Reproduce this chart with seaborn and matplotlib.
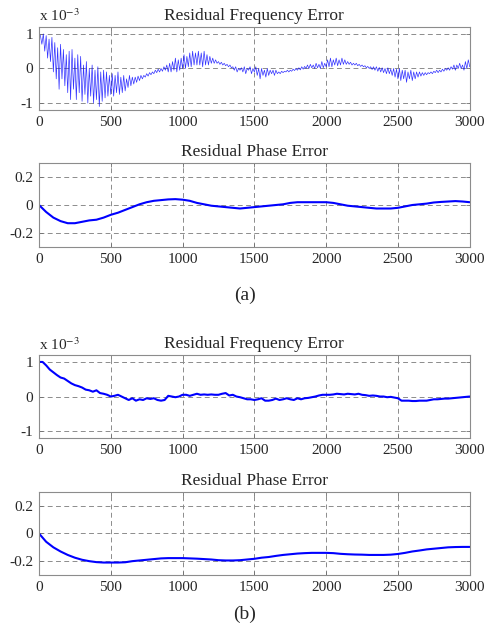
import numpy as np
import matplotlib
matplotlib.use("Agg")
import matplotlib.pyplot as plt
import seaborn as sns

# --- Daten ---
# (a) Residual Frequency Error, Einheit 1e-3, Schritt 10 Samples
freq_a_0 = [1.0, 0.95, 0.7, 1.0, 0.5, 0.95, 0.3, 0.85, 0.2, 0.9,
            -0.1, 0.75, -0.3, 0.6, -0.6, 0.7, -0.3, 0.55, -0.5, 0.4,
            -0.7, 0.5, -0.9, 0.55, -0.6, 0.3, -0.9, 0.4, -0.7, 0.35,
            -0.95, 0.1, -0.75, 0.2, -1.0, 0.0, -0.8, 0.1, -1.0, -0.05,
            -0.9, 0.05, -1.1, -0.1, -0.95, -0.05, -0.85, -0.1, -0.8, -0.2]
freq_a_1 = [-0.75, -0.15, -0.8, -0.2, -0.7, -0.1, -0.75, -0.25, -0.7, -0.2,
            -0.65, -0.3, -0.55, -0.2, -0.5, -0.25, -0.45, -0.25, -0.4, -0.22,
            -0.35, -0.2, -0.3, -0.2, -0.25, -0.15, -0.22, -0.12, -0.18, -0.1,
            -0.15, -0.05, -0.12, -0.02, -0.1, 0.0, -0.08, 0.05, -0.05, 0.1,
            -0.1, 0.15, -0.1, 0.2, -0.05, 0.3, -0.1, 0.25, -0.05, 0.3]
freq_a_2 = [0.0, 0.4, 0.0, 0.35, 0.05, 0.45, 0.05, 0.5, 0.1, 0.45,
            0.1, 0.5, 0.1, 0.45, 0.05, 0.5, 0.1, 0.4, 0.1, 0.35,
            0.15, 0.3, 0.15, 0.25, 0.15, 0.2, 0.12, 0.18, 0.1, 0.15,
            0.08, 0.12, 0.05, 0.1, 0.02, 0.05, -0.05, 0.05, -0.1, 0.0,
            -0.05, 0.02, -0.1, 0.05, -0.15, 0.0, -0.05, 0.05, -0.15, 0.0]
freq_a_3 = [-0.1, 0.05, -0.2, 0.0, -0.3, 0.0, -0.2, -0.05, -0.25, 0.0,
            -0.2, -0.05, -0.15, -0.05, -0.2, -0.05, -0.15, -0.1, -0.15, -0.08,
            -0.12, -0.08, -0.1, -0.05, -0.1, -0.05, -0.08, -0.02, -0.06, 0.0,
            -0.05, 0.02, -0.04, 0.05, -0.02, 0.06, 0.0, 0.1, 0.0, 0.12,
            0.02, 0.1, 0.0, 0.15, 0.02, 0.12, 0.0, 0.2, 0.02, 0.15]
freq_a_4 = [0.05, 0.25, 0.05, 0.3, 0.05, 0.25, 0.1, 0.3, 0.08, 0.25,
            0.1, 0.3, 0.12, 0.25, 0.12, 0.2, 0.12, 0.18, 0.1, 0.15,
            0.1, 0.15, 0.08, 0.12, 0.06, 0.1, 0.05, 0.08, 0.02, 0.06,
            0.0, 0.05, -0.03, 0.05, -0.05, 0.05, -0.08, 0.03, -0.1, 0.02,
            -0.12, 0.0, -0.15, 0.02, -0.15, -0.02, -0.2, 0.0, -0.25, -0.02]
freq_a_5 = [-0.3, 0.0, -0.35, -0.05, -0.3, -0.05, -0.4, -0.1, -0.3, -0.05,
            -0.35, -0.1, -0.3, -0.1, -0.25, -0.1, -0.22, -0.12, -0.2, -0.12,
            -0.18, -0.12, -0.15, -0.1, -0.15, -0.08, -0.12, -0.05, -0.12, -0.05,
            -0.1, -0.02, -0.08, 0.0, -0.05, 0.02, -0.05, 0.05, -0.02, 0.1,
            -0.05, 0.1, 0.0, 0.15, 0.0, 0.1, -0.05, 0.2, 0.0, 0.25, 0.05]
freq_a = freq_a_0 + freq_a_1 + freq_a_2 + freq_a_3 + freq_a_4 + freq_a_5
n_freq_a = np.arange(len(freq_a)) * 10

# (a) Residual Phase Error, Schritt 50
phase_a = [0.0, -0.05, -0.09, -0.115, -0.13, -0.13, -0.12, -0.11, -0.105, -0.09,
           -0.07, -0.055, -0.035, -0.015, 0.005, 0.02, 0.03, 0.035, 0.04, 0.042,
           0.038, 0.03, 0.015, 0.005, -0.005, -0.01, -0.015, -0.02, -0.025, -0.02,
           -0.015, -0.01, -0.005, 0.0, 0.005, 0.015, 0.02, 0.02, 0.02, 0.02,
           0.02, 0.015, 0.005, -0.005, -0.01, -0.015, -0.02, -0.025, -0.025, -0.025,
           -0.02, -0.01, 0.0, 0.005, 0.01, 0.018, 0.022, 0.025, 0.028, 0.025, 0.02]
n_phase_a = np.arange(len(phase_a)) * 50

# (b) Residual Frequency Error, Einheit 1e-3, Schritt 25
freq_b = [1.0, 1.0, 0.9, 0.78, 0.7, 0.62, 0.55, 0.52, 0.45, 0.38,
          0.33, 0.3, 0.26, 0.2, 0.18, 0.14, 0.18, 0.1, 0.08, 0.05,
          0.0, 0.02, 0.05, 0.0, -0.05, -0.1, -0.05, -0.12, -0.08, -0.1,
          -0.05, -0.07, -0.05, -0.1, -0.12, -0.1, 0.02, 0.0, -0.02, 0.0,
          0.05, 0.05, 0.02, 0.05, 0.08, 0.05, 0.06, 0.05, 0.06, 0.05,
          0.05, 0.08, 0.1, 0.03, 0.05, 0.0, -0.02, -0.05, -0.08, -0.08,
          -0.1, -0.08, -0.05, -0.12, -0.12, -0.1, -0.06, -0.1, -0.08, -0.05,
          -0.08, -0.1, -0.05, -0.08, -0.05, -0.04, -0.02, 0.0, 0.03, 0.05,
          0.05, 0.05, 0.06, 0.08, 0.07, 0.06, 0.08, 0.07, 0.06, 0.08,
          0.05, 0.04, 0.02, 0.03, 0.02, 0.0, 0.0, -0.02, -0.01, -0.03,
          -0.05, -0.12, -0.12, -0.12, -0.13, -0.13, -0.12, -0.12, -0.12, -0.1,
          -0.08, -0.08, -0.07, -0.06, -0.06, -0.05, -0.04, -0.03, -0.02, -0.01, 0.0]
n_freq_b = np.arange(len(freq_b)) * 25

# (b) Residual Phase Error, Schritt 50
phase_b = [0.0, -0.06, -0.1, -0.13, -0.155, -0.175, -0.19, -0.2, -0.207, -0.21,
           -0.21, -0.21, -0.208, -0.2, -0.195, -0.19, -0.185, -0.18, -0.178, -0.178,
           -0.178, -0.18, -0.182, -0.185, -0.188, -0.193, -0.195, -0.195, -0.193, -0.188,
           -0.183, -0.175, -0.17, -0.162, -0.155, -0.15, -0.145, -0.142, -0.14, -0.14,
           -0.14, -0.142, -0.147, -0.15, -0.152, -0.153, -0.155, -0.155, -0.155, -0.153,
           -0.148, -0.14, -0.13, -0.123, -0.115, -0.11, -0.105, -0.1, -0.098, -0.097, -0.097]
n_phase_b = np.arange(len(phase_b)) * 50

x_ticks = [0, 500, 1000, 1500, 2000, 2500, 3000]
freq_ticks = [-1, 0, 1]
phase_ticks = [-0.2, 0, 0.2]
phase_ticklabels = ['-0.2', '0', '0.2']

sns.set_theme(style="white")
plt.rcParams['font.family'] = ['Liberation Serif', 'DejaVu Serif']
plt.rcParams['mathtext.fontset'] = 'stix'

fig = plt.figure(figsize=(4.9, 6.35), dpi=100)
left, width = 0.0796, 0.879
ax1 = fig.add_axes([left, 0.8268, width, 0.1307])
ax2 = fig.add_axes([left, 0.6110, width, 0.1323])
ax3 = fig.add_axes([left, 0.3102, width, 0.1307])
ax4 = fig.add_axes([left, 0.0945, width, 0.1307])

blue = '#0000ff'
sns.lineplot(x=n_freq_a, y=freq_a, ax=ax1, color=blue, linewidth=0.5, alpha=0.8)
sns.lineplot(x=n_phase_a, y=phase_a, ax=ax2, color=blue, linewidth=1.5)
sns.lineplot(x=n_freq_b, y=freq_b, ax=ax3, color=blue, linewidth=1.5)
sns.lineplot(x=n_phase_b, y=phase_b, ax=ax4, color=blue, linewidth=1.5)

for ax, title, kind in [(ax1, 'Residual Frequency Error', 'f'),
                        (ax2, 'Residual Phase Error', 'p'),
                        (ax3, 'Residual Frequency Error', 'f'),
                        (ax4, 'Residual Phase Error', 'p')]:
    ax.set_xlim(0, 3000)
    ax.set_xticks(x_ticks)
    ax.set_xticklabels([str(t) for t in x_ticks])
    if kind == 'f':
        ax.set_ylim(-1.2, 1.2)
        ax.set_yticks(freq_ticks)
        ax.set_yticklabels(['-1', '0', '1'])
        ax.text(0.0, 1.03, r'x 10$^{-3}$', transform=ax.transAxes,
                fontsize=11, ha='left', va='bottom')
    else:
        ax.set_ylim(-0.3, 0.3)
        ax.set_yticks(phase_ticks)
        ax.set_yticklabels(phase_ticklabels)
    ax.set_title(title, fontsize=12.5, pad=5)
    ax.grid(True, linestyle=(0, (5, 3.5)), color='#8c8c8c', linewidth=0.7)
    ax.tick_params(direction='in', length=3, width=0.6, color='#707070',
                   labelsize=11, top=True, right=True, bottom=True, left=True,
                   pad=4)
    for sp in ax.spines.values():
        sp.set_color('#8c8c8c')
        sp.set_linewidth(0.8)
    ax.set_xlabel('')
    ax.set_ylabel('')

fig.text(0.5, 0.535, '(a)', ha='center', va='center', fontsize=14)
fig.text(0.5, 0.032, '(b)', ha='center', va='center', fontsize=14)

fig.savefig('out.png', dpi=100)
